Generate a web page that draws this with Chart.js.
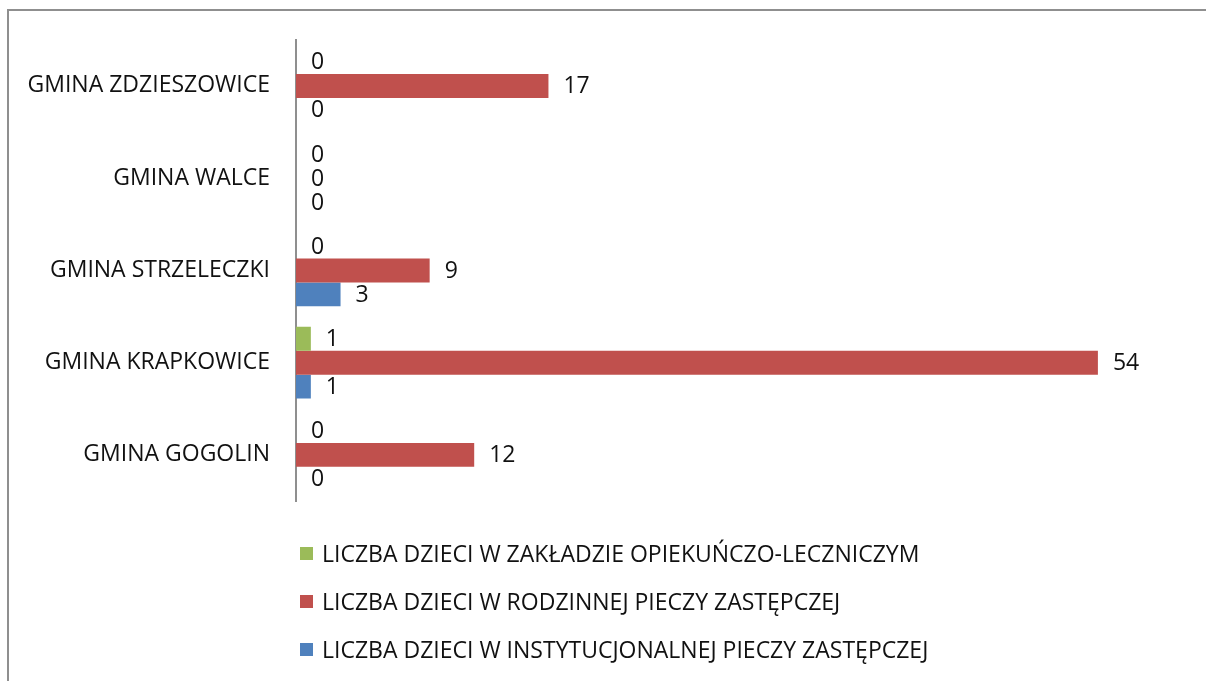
<!DOCTYPE html>
<html>
<head>
<meta charset="utf-8">
<script src="https://cdn.jsdelivr.net/npm/chart.js@4.4.0/dist/chart.umd.min.js"></script>
<style>
  html, body { margin: 0; padding: 0; background: #fff; }
  #wrap { position: relative; width: 1206px; height: 681px; overflow: hidden; }
  #frame {
    position: absolute; left: 7px; top: 9px; width: 1220px; height: 700px;
    border: 2px solid #8f8f8f; box-sizing: border-box;
  }
  #chart { position: absolute; left: 0; top: 0; }
  #legend {
    position: absolute; left: 300px; top: 529px;
    font-family: 'Open Sans', sans-serif; font-size: 23px; color: #111;
  }
  .item { height: 48px; display: flex; align-items: center; }
  .box { width: 13px; height: 13px; margin-right: 9px; }
</style>
</head>
<body>
<div id="wrap">
  <div id="frame"></div>
  <canvas id="chart" width="1206" height="681"></canvas>
  <div id="legend"></div>
</div>
<script>
// categories, top to bottom
const gminy = ['GMINA ZDZIESZOWICE', 'GMINA WALCE', 'GMINA STRZELECZKI', 'GMINA KRAPKOWICE', 'GMINA GOGOLIN'];

// series values, same order as gminy
const zakladOpiekunczy = [0, 0, 0, 1, 0];
const rodzinnaPiecza = [17, 0, 9, 54, 12];
const instytucjonalnaPiecza = [0, 0, 3, 1, 0];

const seriesNames = [
  'LICZBA DZIECI W ZAKŁADZIE OPIEKUŃCZO-LECZNICZYM',
  'LICZBA DZIECI W RODZINNEJ PIECZY ZASTĘPCZEJ',
  'LICZBA DZIECI W INSTYTUCJONALNEJ PIECZY ZASTĘPCZEJ'
];
const seriesColors = ['#9BBB59', '#C0504D', '#4F81BD'];
const xMax = 60;

const FONT = "'Open Sans', sans-serif";
const FONT_SIZE = 23;

// value labels to the right of each bar
const valueLabels = {
  id: 'valueLabels',
  afterDatasetsDraw(chart) {
    const ctx = chart.ctx;
    ctx.save();
    ctx.font = FONT_SIZE + 'px ' + FONT;
    ctx.fillStyle = '#111';
    ctx.textAlign = 'left';
    ctx.textBaseline = 'middle';
    chart.data.datasets.forEach((ds, i) => {
      chart.getDatasetMeta(i).data.forEach((bar, j) => {
        ctx.fillText(String(ds.data[j]), bar.x + 15, bar.y + 1);
      });
    });
    ctx.restore();
  }
};

const datasets = [zakladOpiekunczy, rodzinnaPiecza, instytucjonalnaPiecza].map((vals, i) => ({
  label: seriesNames[i],
  data: vals,
  backgroundColor: seriesColors[i],
  borderWidth: 0,
  barPercentage: 1,
  categoryPercentage: 0.78
}));

new Chart(document.getElementById('chart'), {
  type: 'bar',
  data: { labels: gminy, datasets },
  plugins: [valueLabels],
  options: {
    indexAxis: 'y',
    responsive: false,
    animation: false,
    layout: { padding: { left: 10, right: 19, top: 39, bottom: 180 } },
    plugins: { legend: { display: false }, tooltip: { enabled: false } },
    scales: {
      x: { display: false, min: 0, max: xMax },
      y: {
        grid: { display: false, drawTicks: false },
        border: { display: true, color: '#8f8f8f', width: 2 },
        ticks: { padding: 26, color: '#111', font: { family: FONT, size: FONT_SIZE } },
        afterFit(scale) { scale.width = 286; }
      }
    }
  }
});

// legend, one series per row
const legend = document.getElementById('legend');
seriesNames.forEach((name, i) => {
  const row = document.createElement('div');
  row.className = 'item';
  row.innerHTML = '<div class="box" style="background:' + seriesColors[i] + '"></div><span>' + name + '</span>';
  legend.appendChild(row);
});
</script>
</body>
</html>
